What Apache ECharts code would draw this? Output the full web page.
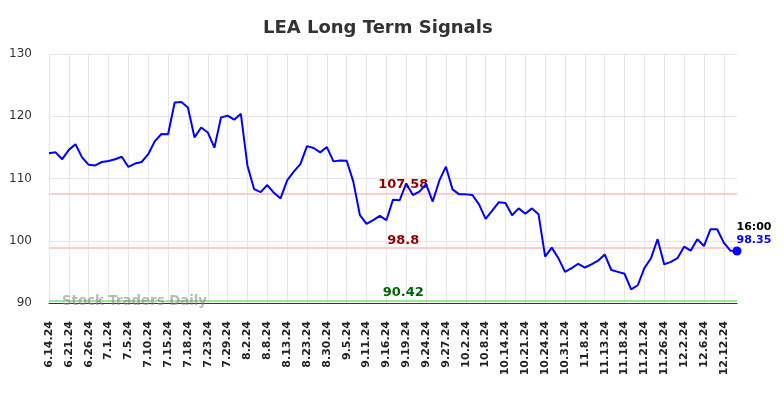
<!DOCTYPE html>
<html>
<head>
<meta charset="utf-8">
<script src="https://cdn.jsdelivr.net/npm/echarts@6/dist/echarts.min.js"></script>
<style>
html,body{margin:0;padding:0;background:#fff;}
#main{width:784px;height:398px;}
</style>
</head>
<body>
<div id="main"></div>
<script>
var tickLabels = ['6.14.24','6.21.24','6.26.24','7.1.24','7.5.24','7.10.24','7.15.24','7.18.24','7.23.24','7.29.24',
    '8.2.24','8.8.24','8.13.24','8.23.24','8.30.24','9.5.24','9.11.24','9.16.24','9.19.24','9.24.24',
    '9.27.24','10.2.24','10.8.24','10.14.24','10.21.24','10.24.24','10.31.24','11.8.24','11.13.24','11.18.24',
    '11.21.24','11.26.24','12.2.24','12.6.24','12.12.24'];

var prices = [114.05,114.2,113.1,114.6,115.5,113.4,112.2,112.1,112.65,112.8,
    113.1,113.5,111.85,112.4,112.65,113.9,116.0,117.15,117.1,122.2,
    122.3,121.4,116.6,118.2,117.4,114.95,119.8,120.1,119.45,120.4,
    112.05,108.3,107.8,108.95,107.7,106.8,109.7,111.1,112.3,115.2,
    114.9,114.2,115.05,112.75,112.9,112.85,109.5,104.1,102.7,103.3,
    104.0,103.3,106.6,106.5,109.2,107.35,107.9,109.1,106.3,109.65,
    111.9,108.25,107.45,107.45,107.35,105.85,103.5,104.85,106.2,106.05,
    104.1,105.2,104.35,105.2,104.25,97.45,98.9,97.2,95.0,95.6,
    96.3,95.7,96.2,96.8,97.8,95.3,95.0,94.7,92.2,92.85,
    95.6,97.2,100.25,96.2,96.6,97.2,99.05,98.4,100.25,99.15,
    101.85,101.85,99.7,98.4,98.35];

var resistance = 107.58;
var middle = 98.8;
var support = 90.42;
var lastTime = '16:00';

// one category per trading day, a label every third day
var days = [];
for (var i = 0; i < prices.length; i++) {
    days.push(i % 3 == 0 ? tickLabels[i / 3] : '');
}
var last = prices.length - 1;

var chart = echarts.init(document.getElementById('main'));
var option = {
    animation: false,
    textStyle: {fontFamily: 'DejaVu Sans'},
    title: {
        text: 'LEA Long Term Signals',
        left: 258,
        top: 14,
        textStyle: {fontSize: 18, fontWeight: 'bold', color: '#333', fontFamily: 'DejaVu Sans'}
    },
    grid: {left: 49, right: 47, top: 54, bottom: 95},
    xAxis: {
        type: 'category',
        data: days,
        boundaryGap: false,
        axisLine: {lineStyle: {color: '#333', width: 1}},
        axisTick: {show: false},
        axisLabel: {
            interval: 2,
            rotate: 90,
            margin: 18,
            fontSize: 11,
            fontWeight: 'bold',
            color: '#222',
            fontFamily: 'DejaVu Sans'
        },
        splitLine: {show: true, interval: 2, lineStyle: {color: '#e6e6e6', width: 1}}
    },
    yAxis: {
        type: 'value',
        min: 90,
        max: 130,
        interval: 10,
        axisLine: {show: false},
        axisTick: {show: false},
        axisLabel: {fontSize: 12, color: '#333', margin: 17, fontFamily: 'DejaVu Sans'},
        splitLine: {lineStyle: {color: '#e6e6e6', width: 1}}
    },
    series: [{
        type: 'line',
        data: prices,
        symbol: 'none',
        lineStyle: {color: '#0000ff', width: 2},
        itemStyle: {color: '#0000ff'},
        z: 5,
        markLine: {
            silent: true,
            symbol: 'none',
            label: {show: false},
            data: [
                {yAxis: resistance, lineStyle: {color: '#ffcccc', width: 2, type: 'solid'}},
                {yAxis: middle, lineStyle: {color: '#ffcccc', width: 2, type: 'solid'}},
                {yAxis: support, lineStyle: {color: '#90ee90', width: 2, type: 'solid'}}
            ]
        },
        markPoint: {
            silent: true,
            data: [
                {coord: [54, resistance], symbolSize: 0,
                    label: {show: true, position: 'inside', offset: [-3, -9], formatter: String(resistance),
                        color: '#8b0000', fontSize: 13, fontWeight: 'bold'}},
                {coord: [54, middle], symbolSize: 0,
                    label: {show: true, position: 'inside', offset: [-3, -8], formatter: String(middle),
                        color: '#8b0000', fontSize: 13, fontWeight: 'bold'}},
                {coord: [54, support], symbolSize: 0,
                    label: {show: true, position: 'inside', offset: [-3, -8], formatter: String(support),
                        color: '#006400', fontSize: 13, fontWeight: 'bold'}},
                {coord: [last, prices[last]], symbol: 'circle', symbolSize: 9,
                    itemStyle: {color: '#0000ff'},
                    label: {show: true, position: [4, -26], align: 'left', verticalAlign: 'top',
                        formatter: '{a|' + lastTime + '}\n{b|' + prices[last] + '}',
                        rich: {
                            a: {color: '#000', fontSize: 11, fontWeight: 'bold', lineHeight: 13},
                            b: {color: '#0000ff', fontSize: 11, fontWeight: 'bold', lineHeight: 13}
                        }}}
            ]
        }
    }],
    graphic: [{
        type: 'text',
        left: 62,
        top: 295,
        z: 10,
        style: {text: 'Stock Traders Daily', fill: 'rgba(130,130,130,0.55)', fontSize: 13.3, fontWeight: 'bold',
            fontFamily: 'DejaVu Sans'}
    }]
};
chart.setOption(option);
</script>
</body>
</html>
